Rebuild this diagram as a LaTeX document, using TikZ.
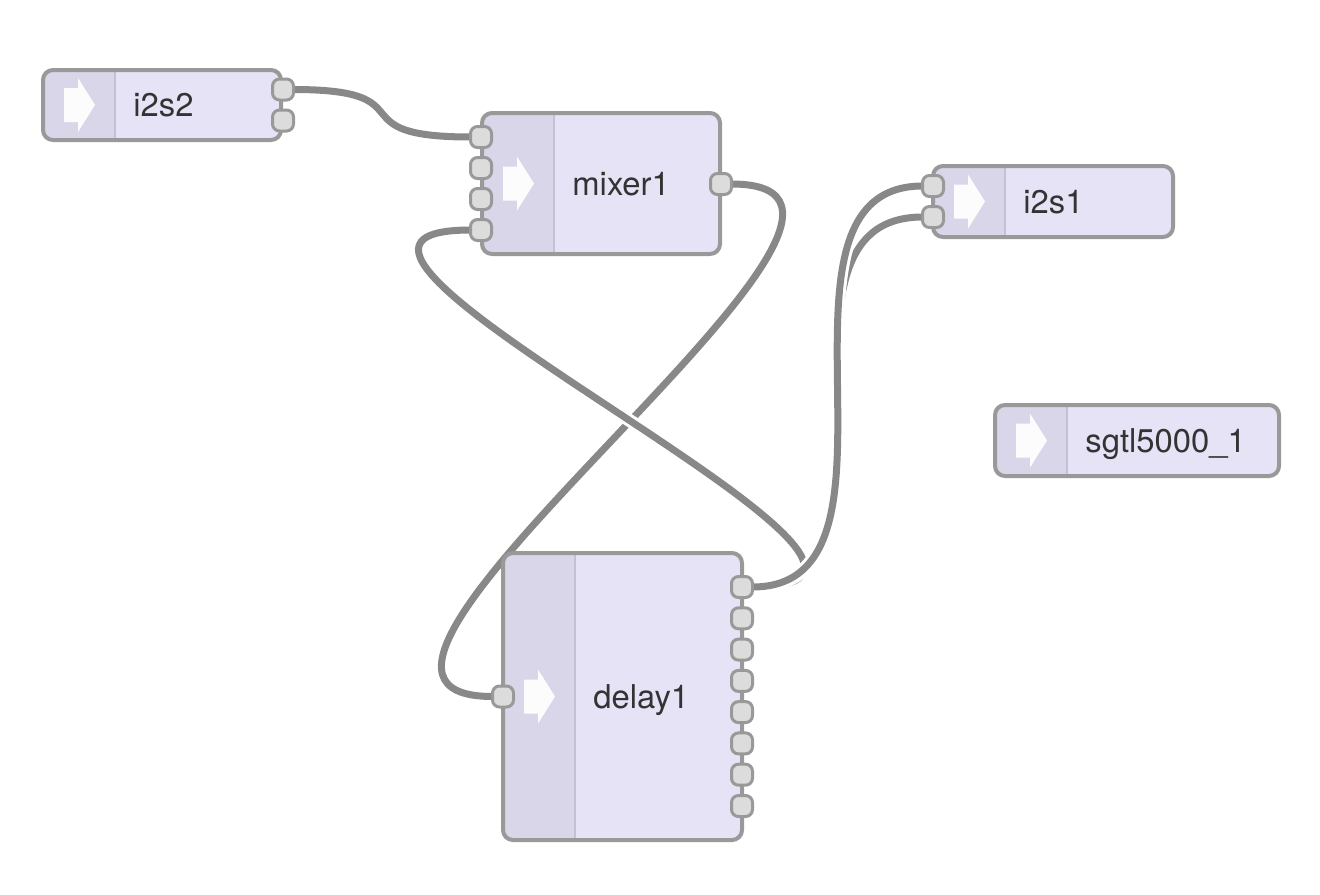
\documentclass[tikz,border=0pt]{standalone}
\usepackage{fontspec}
\setmainfont{TeX Gyre Heros}
\pgfdeclarelayer{bg}
\pgfdeclarelayer{wires}
\pgfsetlayers{bg,wires,main}
\definecolor{nodefill}{HTML}{E6E3F7}
\definecolor{iconfill}{HTML}{D9D6EA}
\definecolor{nodeline}{HTML}{999999}
\definecolor{shadeline}{HTML}{C4C1D4}
\definecolor{portfill}{HTML}{DCDCDC}
\definecolor{linkcol}{HTML}{888888}
\definecolor{txtcol}{HTML}{333333}
\tikzset{
	blockbox/.style={fill=nodefill,rounded corners=5pt,inner sep=0pt,outer sep=0pt},
	port/.style={draw=nodeline,fill=portfill,line width=1.5pt,rounded corners=3.5pt,minimum size=10.5pt,inner sep=0pt,outer sep=0pt},
	link/.style={draw=linkcol,line width=3.5pt,preaction={draw=white,line width=6.5pt}},
	lbl/.style={anchor=base west,inner sep=0pt,text=txtcol,font=\fontsize{16.4}{19}\selectfont}
}
\def\audioblock#1#2#3#4#5#6{
	\node[blockbox,minimum width={(#4-#2)*0.5pt},minimum height={(#5-#3)*0.5pt}] (#1) at ({(#2+#4)/2},{(#3+#5)/2}) {};
	\begin{scope}
		\clip[rounded corners=5pt] (#1.south west) rectangle (#1.north east);
		\fill[iconfill] (#1.south west) rectangle ([xshift=36pt]#1.north west);
	\end{scope}
	\draw[shadeline,line width=1.2pt] ([xshift=36pt]#1.south west) -- ([xshift=36pt]#1.north west);
	\draw[nodeline,line width=2pt,rounded corners=5pt] (#1.south west) rectangle (#1.north east);
	\fill[white,opacity=0.95,shift={([xshift=18pt]#1.west)}] (-15,-17) -- (-1,-17) -- (-1,-27) -- (16,0) -- (-1,27) -- (-1,17) -- (-15,17) -- cycle;
	\node[lbl] (#1-lbl) at ([xshift=45pt,yshift=-5.75pt]#1.west) {#6};
}
\def\wire#1#2#3{
	\draw[link] #1 .. controls +(#3,0) and +(-#3,0) .. #2;
}

\begin{document}
\begin{tikzpicture}[x=0.5pt,y=-0.5pt]
\begin{pgfonlayer}{bg}
\fill[white] (0,0) rectangle (1320,894);
\end{pgfonlayer}
\useasboundingbox (0,0) rectangle (1320,894);
\audioblock{i2s2}{43}{70}{281}{140}{i2s2}
\audioblock{mixer1}{482}{113}{720}{254}{mixer1}
\audioblock{i2s1}{933}{166}{1173}{237}{i2s1}
\audioblock{sgtl}{995}{405}{1279}{476}{sgtl5000\_1}
\audioblock{delay1}{503}{553}{742}{840}{delay1}
\node[port] (i2s2-out0) at (283,89.5) {};
\node[port] (i2s2-out1) at (283,120.5) {};
\node[port] (mixer1-in0) at (481,137) {};
\node[port] (mixer1-in1) at (481,168) {};
\node[port] (mixer1-in2) at (481,199) {};
\node[port] (mixer1-in3) at (481,230) {};
\node[port] (mixer1-out0) at (721,184) {};
\node[port] (i2s1-in0) at (933,186) {};
\node[port] (i2s1-in1) at (933,217) {};
\node[port] (delay1-in0) at (503,696.5) {};
\node[port] (delay1-out0) at (742,587) {};
\node[port] (delay1-out1) at (742,618.3) {};
\node[port] (delay1-out2) at (742,649.6) {};
\node[port] (delay1-out3) at (742,680.9) {};
\node[port] (delay1-out4) at (742,712.1) {};
\node[port] (delay1-out5) at (742,743.4) {};
\node[port] (delay1-out6) at (742,774.7) {};
\node[port] (delay1-out7) at (742,806) {};
\begin{pgfonlayer}{wires}
\wire{(i2s2-out0.east)}{(mixer1-in0.west)}{137}
\wire{(mixer1-out0.east)}{(delay1-in0.west)}{245}
\wire{(delay1-out0.east)}{(mixer1-in3.west)}{258}
\wire{(delay1-out0.east)}{(i2s1-in1.west)}{175}
\wire{(delay1-out0.east)}{(i2s1-in0.west)}{175}
\end{pgfonlayer}
\end{tikzpicture}
\end{document}
